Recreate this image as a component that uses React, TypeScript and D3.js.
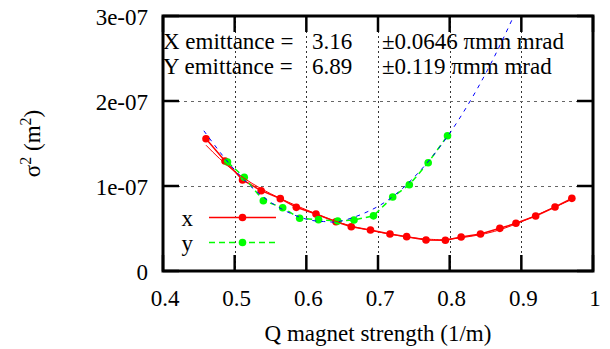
import React from 'react';
import * as d3 from 'd3';

// quad strength k (1/m) and beam size sigma^2 (units of 1e-7 m^2)
const xDataK = [0.460, 0.4865, 0.511, 0.537, 0.5637, 0.586, 0.6135, 0.6414, 0.6627, 0.6895, 0.7167, 0.740, 0.767, 0.794, 0.816, 0.843, 0.870, 0.8925, 0.920, 0.947, 0.9705];
const xDataS = [1.556, 1.294, 1.071, 0.945, 0.851, 0.749, 0.671, 0.580, 0.521, 0.482, 0.435, 0.404, 0.365, 0.361, 0.400, 0.435, 0.502, 0.561, 0.647, 0.753, 0.855];

const yDataK = [0.490, 0.5134, 0.540, 0.567, 0.5907, 0.617, 0.6438, 0.6665, 0.6937, 0.7205, 0.7437, 0.770, 0.797];
const yDataS = [1.282, 1.102, 0.827, 0.745, 0.620, 0.604, 0.588, 0.600, 0.649, 0.871, 1.015, 1.274, 1.592];

// fitted curves
const xFitK = [0.46, 0.50, 0.55, 0.60, 0.65, 0.70, 0.75, 0.78, 0.80, 0.85, 0.90, 0.97];
const xFitS = [1.48, 1.17, 0.91, 0.72, 0.56, 0.46, 0.39, 0.37, 0.375, 0.44, 0.58, 0.84];

const yFitK = [0.457, 0.50, 0.55, 0.60, 0.63, 0.65, 0.70, 0.75, 0.80, 0.85, 0.89];
const yFitS = [1.65, 1.19, 0.81, 0.61, 0.58, 0.59, 0.76, 1.10, 1.62, 2.32, 3.01];

const xTicks = [0.4, 0.5, 0.6, 0.7, 0.8, 0.9, 1.0];
const xTickLabels = ['0.4', '0.5', '0.6', '0.7', '0.8', '0.9', '1'];
const yTicks = [0, 1, 2, 3];
const yTickLabels = ['0', '1e-07', '2e-07', '3e-07'];

const emitLabels = ['X emittance =', 'Y emittance ='];
const emitValues = ['3.16', '6.89'];
const emitErrors = ['\u00b10.0646 \u03c0mm mrad', '\u00b10.119 \u03c0mm mrad'];
const seriesNames = ['x', 'y'];
const seriesColors = ['#ff0000', '#00ff00'];

const W = 610;
const H = 349;
const margin = { top: 16, right: 17, bottom: 78, left: 163 };
const width = W - margin.left - margin.right;
const height = H - margin.top - margin.bottom;

const Label = ({ x, y, anchor = 'start', children }: any) => (
  <text x={x} y={y} textAnchor={anchor} fontSize={23} fill="#000">
    {children}
  </text>
);

export default function App() {
  const x = d3.scaleLinear().domain([0.4, 1.0]).range([0, width]);
  const y = d3.scaleLinear().domain([0, 3]).range([height, 0]);

  const dataLine = d3.line<[number, number]>().x(d => x(d[0])).y(d => y(d[1]));
  const fitLine = d3.line<[number, number]>().x(d => x(d[0])).y(d => y(d[1])).curve(d3.curveNatural);

  const xPts = xDataK.map((k, i) => [k, xDataS[i]] as [number, number]);
  const yPts = yDataK.map((k, i) => [k, yDataS[i]] as [number, number]);
  const xFit = xFitK.map((k, i) => [k, xFitS[i]] as [number, number]);
  const yFit = yFitK.map((k, i) => [k, yFitS[i]] as [number, number]);

  const tickLen = 16;

  return (
    <svg
      width={W}
      height={H}
      style={{ position: 'absolute', left: 0, top: 0, background: '#fff', fontFamily: "'Times New Roman'" }}
    >
      <defs>
        <clipPath id="plot-clip">
          <rect width={width} height={height} />
        </clipPath>
      </defs>
      <g transform={`translate(${margin.left},${margin.top})`}>
        {/* grid */}
        {xTicks.slice(1, -1).map(t => (
          <line key={'gx' + t} x1={Math.round(x(t)) + 0.5} x2={Math.round(x(t)) + 0.5} y1={0} y2={height}
            stroke="#333" strokeWidth={1} strokeDasharray="2,3" />
        ))}
        {yTicks.slice(1, -1).map(t => (
          <line key={'gy' + t} y1={Math.round(y(t)) + 0.5} y2={Math.round(y(t)) + 0.5} x1={0} x2={width}
            stroke="#666" strokeWidth={1} strokeDasharray="3,4" />
        ))}

        {/* emittance text */}
        {emitLabels.map((t, i) => {
          const by = 49 + i * 24.5 - margin.top;
          return (
            <g key={'em' + i}>
              <Label x={0} y={by}>{t}</Label>
              <Label x={312 - margin.left} y={by}>{emitValues[i]}</Label>
              <Label x={382 - margin.left} y={by}>{emitErrors[i]}</Label>
            </g>
          );
        })}

        <g clipPath="url(#plot-clip)">
          <path d={dataLine(xPts)!} fill="none" stroke="#ff0000" strokeWidth={1.5} />
          {xPts.map((d, i) => <circle key={'xp' + i} cx={x(d[0])} cy={y(d[1])} r={3.8} fill="#ff0000" />)}
          <path d={dataLine(yPts)!} fill="none" stroke="#00ff00" strokeWidth={1.5} strokeDasharray="6,4" />
          {yPts.map((d, i) => <circle key={'yp' + i} cx={x(d[0])} cy={y(d[1])} r={3.8} fill="#00ff00" />)}
          <path d={fitLine(xFit)!} fill="none" stroke="#ff0000" strokeWidth={1} />
          <path d={fitLine(yFit)!} fill="none" stroke="#0000ff" strokeWidth={1} strokeDasharray="4,5" />
        </g>

        {/* legend */}
        {seriesNames.map((name, i) => {
          const ly = 217.5 + i * 25 - margin.top;
          return (
            <g key={'lg' + name}>
              <Label x={193 - margin.left} y={ly + 8} anchor="end">{name}</Label>
              <line x1={209 - margin.left} x2={276 - margin.left} y1={ly} y2={ly}
                stroke={seriesColors[i]} strokeWidth={1.5} strokeDasharray={i === 0 ? undefined : '6,4'} />
              <circle cx={242.5 - margin.left} cy={ly} r={3.8} fill={seriesColors[i]} />
            </g>
          );
        })}

        {/* ticks, inward on all four sides */}
        <g stroke="#000" strokeWidth={2.5}>
          {xTicks.map(t => (
            <g key={'tx' + t}>
              <line x1={x(t)} x2={x(t)} y1={height} y2={height - tickLen} />
              <line x1={x(t)} x2={x(t)} y1={0} y2={tickLen} />
            </g>
          ))}
          {yTicks.map(t => (
            <g key={'ty' + t}>
              <line y1={y(t)} y2={y(t)} x1={0} x2={tickLen} />
              <line y1={y(t)} y2={y(t)} x1={width} x2={width - tickLen} />
            </g>
          ))}
        </g>

        <rect width={width} height={height} fill="none" stroke="#000" strokeWidth={3} />

        {/* tick labels */}
        {xTicks.map((t, i) => (
          <Label key={'xl' + t} x={x(t) + 2} y={height + 35} anchor="middle">{xTickLabels[i]}</Label>
        ))}
        {yTicks.map((t, i) => (
          <Label key={'yl' + t} x={-15} y={y(t) + 9} anchor="end">{yTickLabels[i]}</Label>
        ))}

        <Label x={width / 2} y={height + 70} anchor="middle">Q magnet strength (1/m)</Label>
      </g>

      <text transform={`translate(40,${margin.top + height / 2}) rotate(-90)`} textAnchor="middle" fontSize={23}>
        <tspan>{'\u03c3'}</tspan>
        <tspan dy={-9} fontSize={16}>2</tspan>
        <tspan dy={9}> (m</tspan>
        <tspan dy={-9} fontSize={16}>2</tspan>
        <tspan dy={9}>)</tspan>
      </text>
    </svg>
  );
}
